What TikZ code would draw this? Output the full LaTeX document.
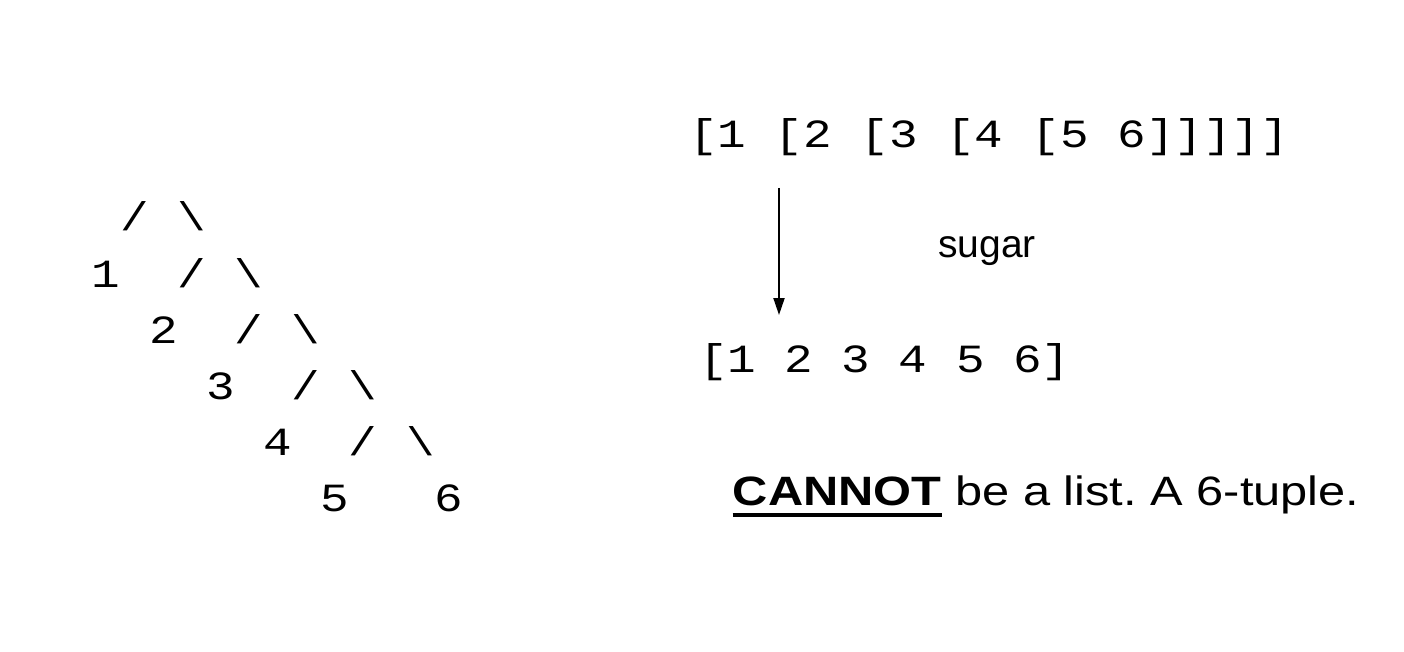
\documentclass[tikz,border=0pt]{standalone}
\usepackage{fontspec}
\usetikzlibrary{arrows.meta}
\newfontfamily\monof[FakeStretch=1.19]{Liberation Mono}
\newfontfamily\sansf[FakeStretch=1.19]{Liberation Sans}
\newfontfamily\sansplain{Liberation Sans}
\newcommand\SP{\hphantom{0}}
\newcommand\BS{\textbackslash}
\frenchspacing
\tikzset{
  mono/.style={anchor=base west, inner sep=0pt, font=\monof\fontsize{40}{48}\selectfont},
  sanstext/.style={inner sep=0pt, font=\sansf\fontsize{41}{48}\selectfont},
  arr/.style={line width=2pt, -{Triangle[length=17pt,width=11pt]}},
}
\begin{document}
\begin{tikzpicture}[x=1pt,y=-1pt]
\useasboundingbox (0,0) rectangle (1404,652);
\fill[white] (0,0) rectangle (1404,652);
% tree
\node[mono] (r1) at (91.7,231) {\SP/\SP\BS};
\node[mono] (r2) at (91.7,287) {1\SP\SP/\SP\BS};
\node[mono] (r3) at (91.7,343) {\SP\SP2\SP\SP/\SP\BS};
\node[mono] (r4) at (91.7,399) {\SP\SP\SP\SP3\SP\SP/\SP\BS};
\node[mono] (r5) at (91.7,455) {\SP\SP\SP\SP\SP\SP4\SP\SP/\SP\BS};
\node[mono] (r6) at (91.7,511) {\SP\SP\SP\SP\SP\SP\SP\SP5\SP\SP\SP6};
% right side
\node[mono] (nested) at (688.9,148) {[1\SP[2\SP[3\SP[4\SP[5\SP6]]]]]};
\node[mono] (flat) at (698.8,372) {[1\SP2\SP3\SP4\SP5\SP6]};
\coordinate (a1) at (779,188);
\coordinate (a2) at (779,315);
\draw[arr] (a1) -- (a2);
\node[inner sep=0pt, anchor=base, font=\sansplain\fontsize{39}{46}\selectfont] (sugar) at (987,257) {sugar};
\node[sanstext, anchor=base west, font=\sansf\bfseries\fontsize{41}{48}\selectfont] (cannot) at (732.6,505) {CANNOT};
\node[sanstext, anchor=base west] (rest) at (cannot.base east) {\ be a list. A 6-tuple.};
\draw[line width=3.5pt] ([yshift=-10pt]cannot.base west) -- ([yshift=-10pt]cannot.base east);
\end{tikzpicture}
\end{document}
